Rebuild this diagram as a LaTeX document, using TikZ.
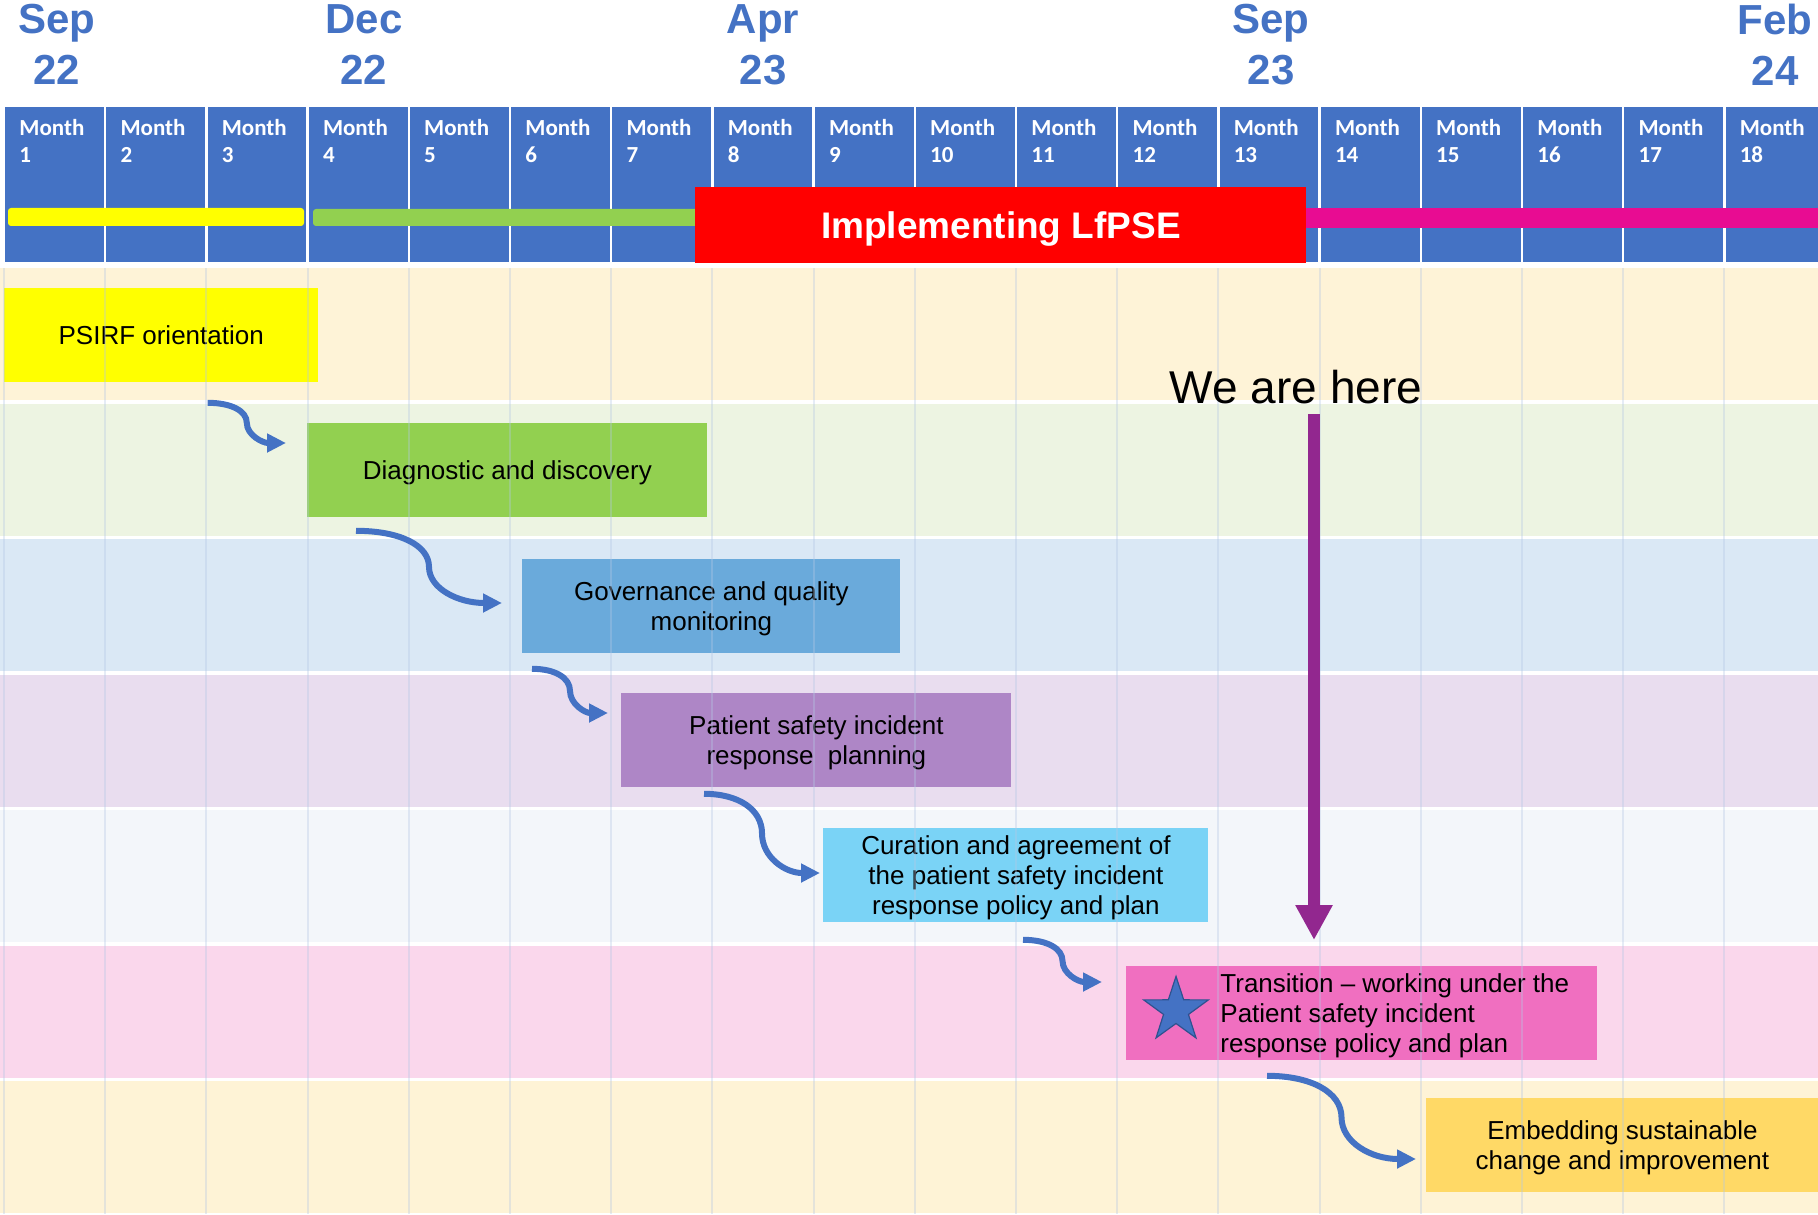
\documentclass[tikz,border=0pt]{standalone}
\usepackage{fontspec}
\setmainfont{Liberation Sans}
\newfontfamily\monthfont{Carlito}
\usetikzlibrary{calc, arrows.meta, shapes.geometric}

\definecolor{planblue}{HTML}{4472C4}
\definecolor{starline}{HTML}{2F528F}
\definecolor{herepurple}{HTML}{92278F}
\definecolor{lfpsepink}{HTML}{E80C92}
\definecolor{gridblue}{HTML}{B4C8E4}
% row bands
\definecolor{bandA}{HTML}{FEF3D7}
\definecolor{bandB}{HTML}{EDF4E2}
\definecolor{bandC}{HTML}{DAE8F5}
\definecolor{bandD}{HTML}{E9DDEF}
\definecolor{bandE}{HTML}{F3F6FA}
\definecolor{bandF}{HTML}{FAD7EC}
\definecolor{bandG}{HTML}{FEF3D6}
% phase boxes
\definecolor{psirfyellow}{HTML}{FFFF00}
\definecolor{diaggreen}{HTML}{92D050}
\definecolor{govblue}{HTML}{6AAADB}
\definecolor{planpurple}{HTML}{AE86C6}
\definecolor{curcyan}{HTML}{7AD3F6}
\definecolor{transpink}{HTML}{F06FC0}
\definecolor{embedgold}{HTML}{FFD966}

\tikzset{
  phase/.style={anchor=north west, inner sep=0pt, minimum height=47pt, text depth=0pt,
    align=center, font=\fontsize{13}{15}\selectfont},
  monthlbl/.style={anchor=north west, inner sep=0pt, align=left, text=white,
    font=\monthfont\bfseries\fontsize{11.5}{13.5}\selectfont},
  datelbl/.style={anchor=north, inner sep=0pt, align=center, text=planblue,
    font=\bfseries\fontsize{21}{25.5}\selectfont},
  flow/.style={draw=planblue, line width=3pt, -{Triangle[length=9.5pt,width=9pt]}},
}

\begin{document}
\begin{tikzpicture}[x=0.5pt, y=-0.5pt]
\useasboundingbox (0,0) rectangle (1818,1214);
\clip (0,0) rectangle (1818,1214);

% coloured bands, one per phase
\foreach \c [count=\i from 0] in {bandA,bandB,bandC,bandD,bandE,bandF,bandG}
  \fill[\c] (0,{268+135.5*\i}) rectangle (1818,{400+135.5*\i});

% phases
\node[phase, fill=psirfyellow, minimum width=157.2pt] (psirf) at (3.6,288) {PSIRF orientation};
\node[phase, fill=diaggreen, minimum width=200pt] (diag) at (307,423) {Diagnostic and discovery};
\node[phase, fill=govblue, minimum width=189pt] (gov) at (522,559) {Governance and quality\\monitoring};
\node[phase, fill=planpurple, minimum width=195pt] (plan) at (621,693) {Patient safety incident\\response~ planning};
\node[phase, fill=curcyan, minimum width=192.5pt] (cur) at (823,828) {Curation and agreement of\\the patient safety incident\\response policy and plan};
\node[phase, fill=transpink, minimum width=235.5pt] (trans) at (1126,966) {};
\node[star, star points=5, star point ratio=2.6, minimum size=34pt, inner sep=0pt,
  fill=planblue, draw=starline, line width=0.6pt] (star) at ($(trans.west)+(50,-3)$) {};
\node[anchor=west, inner sep=0pt, align=left, text depth=0pt, font=\fontsize{13}{15}\selectfont] (transtext)
  at ($(trans.west)+(94,0)$) {Transition – working under the\\Patient safety incident\\response policy and plan};
\node[phase, fill=embedgold, minimum width=196pt] (embed) at (1426,1098) {Embedding sustainable\\change and improvement};

% month grid
\foreach \k in {0,...,17}
  \draw[gridblue, line width=1pt, opacity=0.35] ({4+101.2*\k},268) -- ({4+101.2*\k},1214);

% step arrows between phases
\foreach \src/\sx/\sy/\dst/\tx/\ty in {psirf/204/20/diag/-21/20, diag/49/13/gov/-20/44,
    gov/10/15/plan/-13/20, plan/83/6/cur/-3/45, cur/200/17/trans/-24/16, trans/141/15/embed/-10/61} {
  \coordinate (s) at ($(\src.south west)+(\sx,\sy)$);
  \coordinate (t) at ($(\dst.north west)+(\tx,\ty)$);
  \coordinate (m) at ($(s)!0.5!(t)$);
  \draw[flow] (s) .. controls ($(s)!0.6!(s -| m)$) and ($(m)!0.6!(m |- s)$) .. (m)
    .. controls ($(m)!0.6!(m |- t)$) and ($(t)!0.6!(t -| m)$) .. (t);
}

\node[anchor=base, inner sep=0pt, font=\fontsize{23}{27}\selectfont] (here) at (1296,403) {We are here};
\draw[herepurple, line width=6pt, -{Triangle[length=17.5pt,width=17.5pt]}]
  ($(here.base)+(18,11)$) -- ($(trans.north west)+(188,-26)$);

% month header
\foreach \i in {1,...,18} {
  \fill[planblue] ({4+101.2*(\i-1)+1.2},107) rectangle ({4+101.2*\i-1.2},262);
  \node[monthlbl] (m\i) at ({4+101.2*(\i-1)+15},119) {Month\\\i};
}
\fill[psirfyellow, rounded corners=1.5pt] (8,208) rectangle (304,226);
\fill[diaggreen, rounded corners=1.5pt] (313,209) rectangle (710,226);
\fill[lfpsepink] (1300,208) rectangle (1818,228);
\node[fill=red, text=white, minimum width=305.5pt, minimum height=38pt, inner sep=0pt, text depth=0pt,
  anchor=north west, font=\bfseries\fontsize{18.5}{20}\selectfont] (lfpse) at (695,187) {Implementing LfPSE};

% dates
\node[datelbl] (sep22) at (57,4) {Sep\\22};
\node[datelbl] (dec22) at (364,4) {Dec\\22};
\node[datelbl] (apr23) at (763,4) {Apr\\23};
\node[datelbl] (sep23) at (1271,4) {Sep\\23};
\node[datelbl] (feb24) at (1775,4) {Feb\\24};
\end{tikzpicture}
\end{document}
